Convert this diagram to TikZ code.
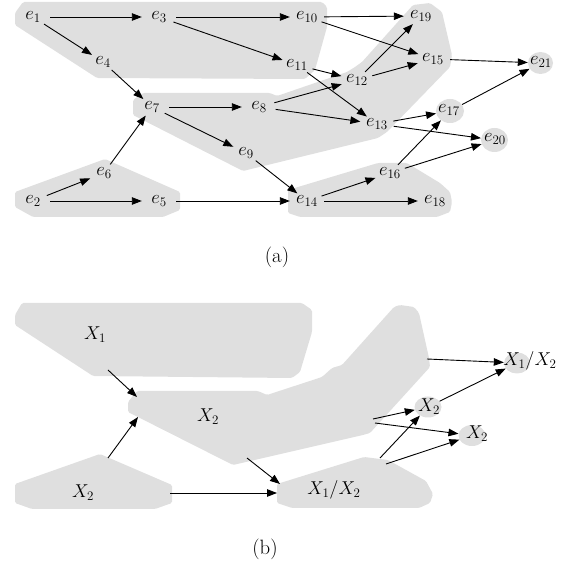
\documentclass[tikz,border=0pt]{standalone}
\usepackage{fix-cm}
\usetikzlibrary{arrows.meta,shapes.geometric}
\definecolor{regionfill}{RGB}{223,223,223}
\begin{document}
\begin{tikzpicture}[x=1pt,y=-1pt,
  region/.style={fill=regionfill, rounded corners=1.5pt},
  lbl/.style={ellipse, minimum width=34pt, minimum height=18pt, inner sep=0pt, font=\fontsize{18.6}{22}\selectfont},
  ebl/.style={ellipse, fill=regionfill, inner sep=0pt},
  txt/.style={inner sep=0pt, font=\fontsize{18.6}{22}\selectfont},
  captext/.style={inner sep=0pt, font=\fontsize{20.74}{25}\selectfont},
  arr/.style={-{Triangle[length=10pt,width=7.5pt]}, line width=0.9pt},
]
\useasboundingbox (0,0) rectangle (563,561);

% ---------- panel (a): regions ----------
\fill[region] (23,2) -- (322,2) -- (327,7) -- (327,27) -- (315,70) -- (305,79) -- (97,78) -- (15,25) -- (15,13) -- cycle;
\fill[region] (143,93) -- (270,93) -- (277,96) -- (347,72) -- (355,67) -- (362,62) -- (413,5) -- (430,3) -- (442,12) -- (452,55) -- (450,67) -- (387,132) -- (378,138) -- (243,171) -- (133,115) -- (133,100) -- cycle;
\fill[region] (105,159) -- (180,192) -- (180,210) -- (163,217) -- (33,217) -- (15,207) -- (15,192) -- cycle;
\fill[region] (378,163) -- (407,163) -- (440,183) -- (450,192) -- (452,202) -- (450,212) -- (437,217) -- (300,217) -- (288,213) -- (288,190) -- cycle;

\node[ebl, minimum width=25pt, minimum height=22pt] (n21) at (540.5,63) {};
\node[ebl, minimum width=28pt, minimum height=24pt] (n17) at (450,111) {};
\node[ebl, minimum width=27pt, minimum height=24pt] (n20) at (494.5,140) {};

% ---------- panel (a): labels ----------
\node[lbl] (e1) at (33,17) {$e_1$};
\node[lbl] (e3) at (159,17) {$e_3$};
\node[lbl] (e10) at (307,17) {$e_{10}$};
\node[lbl] (e19) at (421,16) {$e_{19}$};
\node[lbl] (e4) at (103,62) {$e_4$};
\node[lbl] (e11) at (297,65) {$e_{11}$};
\node[lbl] (e15) at (433,59) {$e_{15}$};
\node[lbl] (e12) at (357,80) {$e_{12}$};
\node[txt] (e21) at (541,62) {$e_{21}$};
\node[lbl] (e7) at (152,107) {$e_7$};
\node[lbl] (e8) at (259,107) {$e_8$};
\node[txt] (e17) at (449,110) {$e_{17}$};
\node[lbl] (e13) at (377,124) {$e_{13}$};
\node[txt] (e20) at (495,139) {$e_{20}$};
\node[lbl] (e9) at (246,153) {$e_9$};
\node[lbl] (e6) at (104,173) {$e_6$};
\node[lbl] (e16) at (390,173) {$e_{16}$};
\node[lbl] (e2) at (33,201) {$e_2$};
\node[lbl] (e5) at (159,201) {$e_5$};
\node[lbl] (e14) at (307,201) {$e_{14}$};
\node[lbl] (e18) at (435,201) {$e_{18}$};

% ---------- panel (a): edges ----------
\draw[arr] (e1) -- (e3);
\draw[arr] (e1) -- (e4);
\draw[arr] (e3) -- (e10);
\draw[arr] (e3) -- (e11);
\draw[arr] (e4) -- (e7);
\draw[arr] (e2) -- (e6);
\draw[arr] (e2) -- (e5);
\draw[arr] (e6) -- (e7);
\draw[arr] (e7) -- (e8);
\draw[arr] (e7) -- (e9);
\draw[arr] (e10) -- (e19);
\draw[arr] (e10) -- (e15);
\draw[arr] (e11) -- (e12);
\draw[arr] (e11) -- (e13);
\draw[arr] (e8) -- (e12);
\draw[arr] (e8) -- (e13);
\draw[arr] (e12) -- (e19);
\draw[arr] (e12) -- (e15);
\draw[arr] (e15) -- (n21);
\draw[arr] (e13) -- (n17);
\draw[arr] (e13) -- (n20);
\draw[arr] (e9) -- (e14);
\draw[arr] (e5) -- (e14);
\draw[arr] (e14) -- (e16);
\draw[arr] (e14) -- (e18);
\draw[arr] (e16) -- (n17);
\draw[arr] (e16) -- (n20);
\draw[arr] (n17) -- (n21);

\node[captext] (capa) at (277,257) {(a)};

% ---------- panel (b): regions ----------
\fill[region] (22,303) -- (302,303) -- (312,310) -- (312,332) -- (300,372) -- (292,378) -- (93,376) -- (15,325) -- (15,315) -- cycle;
\fill[region] (137,391) -- (258,391) -- (267,395) -- (322,377) -- (332,368) -- (342,365) -- (394,307) -- (400,305) -- (414,307) -- (419,313) -- (429,358) -- (430,367) -- (370,433) -- (363,435) -- (233,465) -- (128,412) -- (128,402) -- cycle;
\fill[region] (100,454) -- (172,485) -- (172,503) -- (155,509) -- (32,509) -- (15,503) -- (15,484) -- cycle;
\fill[region] (364,457) -- (388,460) -- (426,481) -- (433,494) -- (430,503) -- (419,508) -- (292,508) -- (277,503) -- (277,484) -- cycle;

\node[ebl, minimum width=27pt, minimum height=21pt] (u2) at (428,407) {};
\node[ebl, minimum width=27pt, minimum height=21pt] (l2) at (472,435.5) {};
\node[ebl, minimum width=26pt, minimum height=21pt] (u12) at (517,363) {};

\node[txt] (X1a) at (95,335) {$X_1$};
\node[txt] (X2a) at (208,417) {$X_2$};
\node[txt] (X2b) at (83,493) {$X_2$};
\node[txt] (X12a) at (334,490) {$X_1/X_2$};
\node[txt] (u2l) at (429,407) {$X_2$};
\node[txt] (l2l) at (477,434) {$X_2$};
\node[txt] (u12l) at (530,361) {$X_1/X_2$};

\coordinate (b1s) at (108,370); \coordinate (b1e) at (137,397);
\coordinate (b2s) at (108,458); \coordinate (b2e) at (138,417);
\coordinate (b3s) at (247,458); \coordinate (b3e) at (280,484);
\coordinate (b4s) at (170,493); \coordinate (b4e) at (277,493);
\coordinate (b5s) at (427,359);
\coordinate (b6s) at (373,419);
\coordinate (b7s) at (375,423);
\coordinate (b8s) at (380,458);
\coordinate (b9s) at (386,464);

\draw[arr] (b1s) -- (b1e);
\draw[arr] (b2s) -- (b2e);
\draw[arr] (b3s) -- (b3e);
\draw[arr] (b4s) -- (b4e);
\draw[arr] (b5s) -- (u12);
\draw[arr] (b6s) -- (u2);
\draw[arr] (b7s) -- (l2);
\draw[arr] (b8s) -- (u2);
\draw[arr] (b9s) -- (l2);
\draw[arr] (u2) -- (u12);

\node[captext] (capb) at (265,549) {(b)};
\end{tikzpicture}
\end{document}
